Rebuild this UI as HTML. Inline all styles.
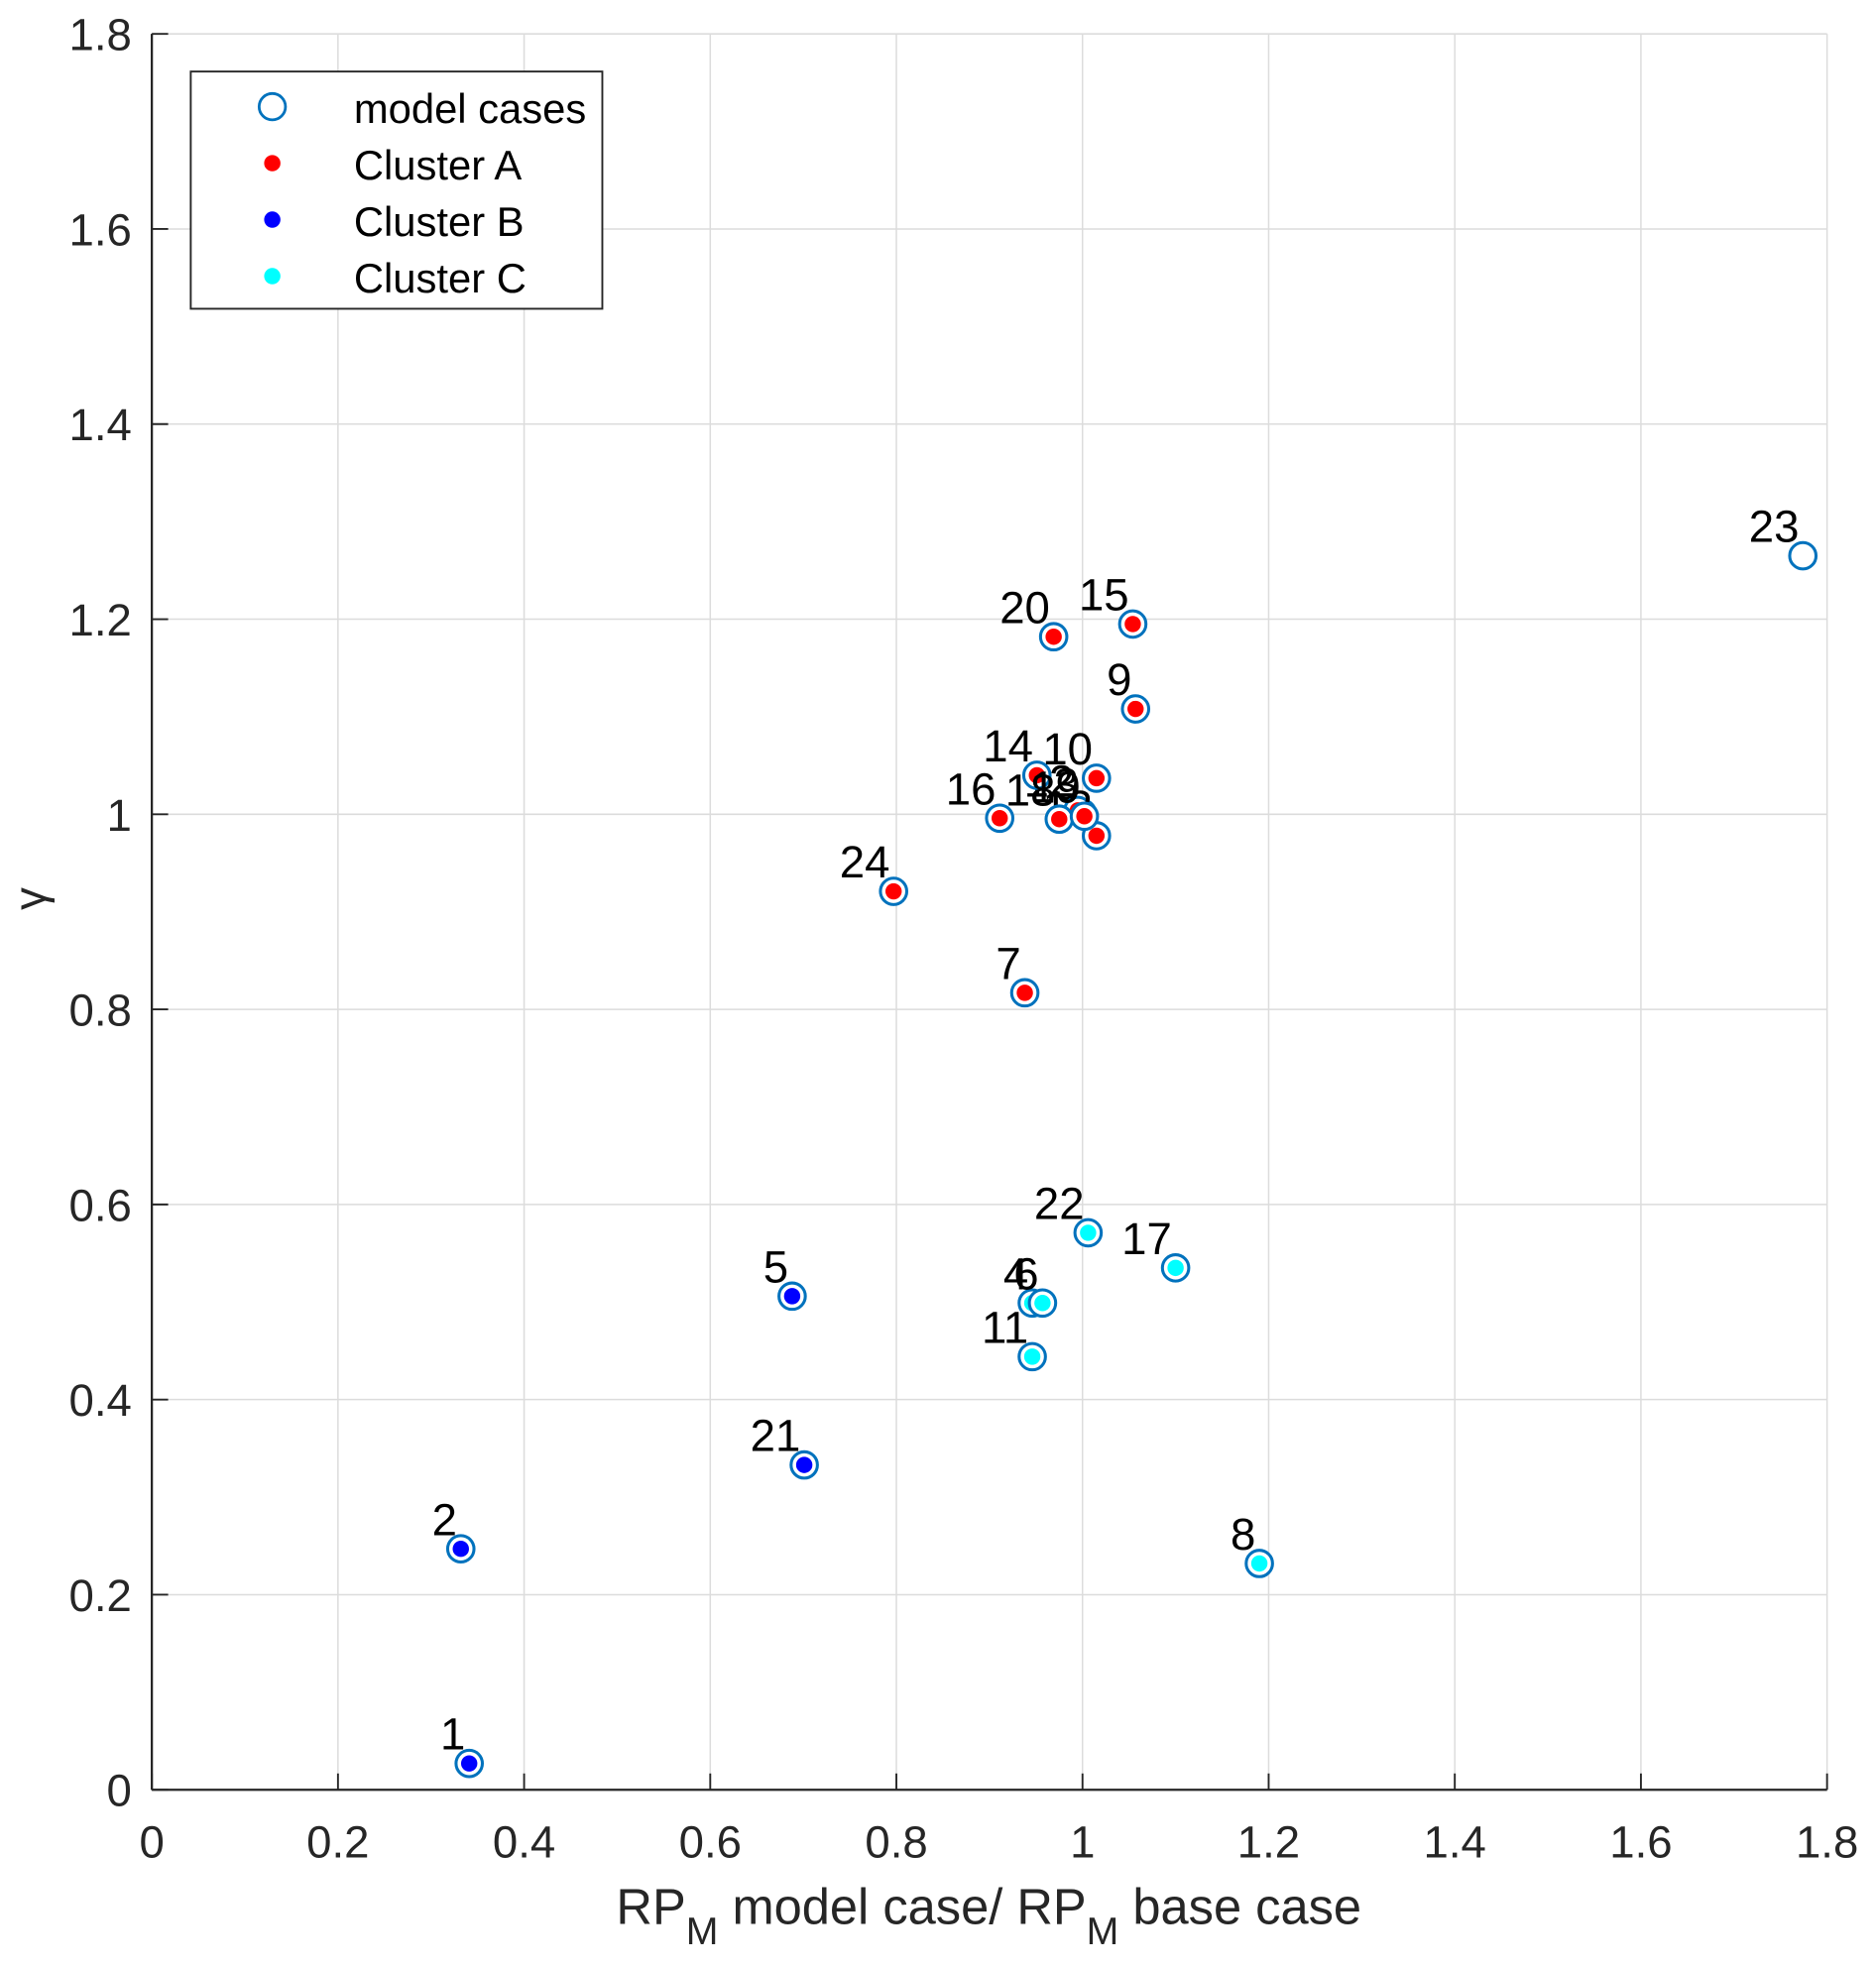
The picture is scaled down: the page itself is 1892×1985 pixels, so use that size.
<!DOCTYPE html>
<html><head><meta charset="utf-8"><style>html,body{margin:0;padding:0;background:#fff}svg{display:block}text{font-family:"Liberation Sans",Arial,sans-serif}</style></head>
<body>
<svg id="chart" width="1892" height="1985" viewBox="0 0 1495 1568" preserveAspectRatio="none" xmlns="http://www.w3.org/2000/svg">
<rect x="0" y="0" width="1495" height="1568" fill="#fff"/>
<g id="grid"></g>
<g id="axes"></g>
<g id="marks"></g>
<text x="788" y="1533" font-size="40" fill="#262626" text-anchor="middle">RP<tspan font-size="31" dy="16">M</tspan><tspan dy="-16"> model case/ RP</tspan><tspan font-size="31" dy="16">M</tspan><tspan dy="-16"> base case</tspan></text>
<text x="36" y="716" font-size="36" fill="#262626" text-anchor="middle" transform="rotate(-90 36 716)">γ</text>
<g>
<rect x="152" y="57" width="328" height="189" fill="#fff" stroke="#262626" stroke-width="1.5"/>
<g><circle cx="217" cy="85" r="10.5" fill="none" stroke="#0072BD" stroke-width="2.2"/><text x="282" y="98" font-size="33" fill="#000">model cases</text></g>
<g><circle cx="217" cy="130" r="6.5" fill="#ff0000"/><text x="282" y="143" font-size="33" fill="#000">Cluster A</text></g>
<g><circle cx="217" cy="175" r="6.5" fill="#0000ff"/><text x="282" y="188" font-size="33" fill="#000">Cluster B</text></g>
<g><circle cx="217" cy="220" r="6.5" fill="#00ffff"/><text x="282" y="233" font-size="33" fill="#000">Cluster C</text></g>
</g>
</svg>
<script>
const caseLabels = ["1","2","3","4","5","6","7","8","9","10","11","12","13","14","15","16","17","18","19","20","21","22","23","24"];
const xValues = [0.341,0.332,1.000,0.946,0.688,0.957,0.938,1.190,1.057,1.015,0.946,0.995,1.015,0.951,1.054,0.911,1.100,0.975,1.002,0.969,0.701,1.006,1.774,0.797];
const yValues = [0.027,0.247,1.001,0.499,0.506,0.499,0.817,0.232,1.108,1.037,0.444,1.004,0.978,1.040,1.195,0.996,0.535,0.995,0.998,1.182,0.333,0.571,1.265,0.921];
const clusters = ["B","B","A","C","B","C","A","C","A","A","C","A","A","A","A","A","C","A","A","A","B","C","","A"];
const xTicks = [0,0.2,0.4,0.6,0.8,1,1.2,1.4,1.6,1.8];
const yTicks = [0,0.2,0.4,0.6,0.8,1,1.2,1.4,1.6,1.8];
const clusterColors = {A:"#ff0000",B:"#0000ff",C:"#00ffff"};

const NS="http://www.w3.org/2000/svg";
const X0=121,X1=1456,Y0=1426,Y1=27;
function xs(v){return X0+(v/1.8)*(X1-X0);}
function ys(v){return Y0-(v/1.8)*(Y0-Y1);}
function mk(tag,attrs,parent){const e=document.createElementNS(NS,tag);for(const k in attrs)e.setAttribute(k,attrs[k]);parent.appendChild(e);return e;}
const grid=document.getElementById('grid'),axes=document.getElementById('axes'),marks=document.getElementById('marks');
xTicks.forEach(t=>{
  const l=mk('line',{x1:xs(t),x2:xs(t),y1:Y1,y2:Y0,stroke:'#dcdcdc','stroke-width':1.2},grid);
  
  
  const tk=mk('line',{x1:xs(t),x2:xs(t),y1:Y0,y2:Y0-13,stroke:'#262626','stroke-width':1.5},axes);
  
  
  const tx=mk('text',{x:xs(t),y:Y0+54,'font-size':36,fill:'#262626','text-anchor':'middle'},axes);
  
  
  tx.textContent=String(t);
});
yTicks.forEach(t=>{
  const l=mk('line',{x1:X0,x2:X1,y1:ys(t),y2:ys(t),stroke:'#dcdcdc','stroke-width':1.2},grid);
  
  
  const tk=mk('line',{x1:X0,x2:X0+13,y1:ys(t),y2:ys(t),stroke:'#262626','stroke-width':1.5},axes);
  
  
  const tx=mk('text',{x:X0-16,y:ys(t)+13,'font-size':36,fill:'#262626','text-anchor':'end'},axes);
  
  
  tx.textContent=String(t);
});
const ax1=mk('line',{x1:X0,x2:X0,y1:Y1,y2:Y0,stroke:'#262626','stroke-width':1.8},axes);


const ax2=mk('line',{x1:X0,x2:X1,y1:Y0,y2:Y0,stroke:'#262626','stroke-width':1.8},axes);


caseLabels.forEach((lab,i)=>{
  const cx=xs(xValues[i]),cy=ys(yValues[i]);
  const g=mk('g',{},marks);
  
  
  mk('circle',{cx:cx,cy:cy,r:10.5,fill:'#fff',stroke:'#0072BD','stroke-width':2.4},g);
  if(clusters[i]){mk('circle',{cx:cx,cy:cy,r:6.5,fill:clusterColors[clusters[i]]},g);}
  const t=mk('text',{x:cx-3,y:cy-11,'font-size':36,fill:'#000','text-anchor':'end'},g);
  t.textContent=lab;
});
</script>
</body></html>
